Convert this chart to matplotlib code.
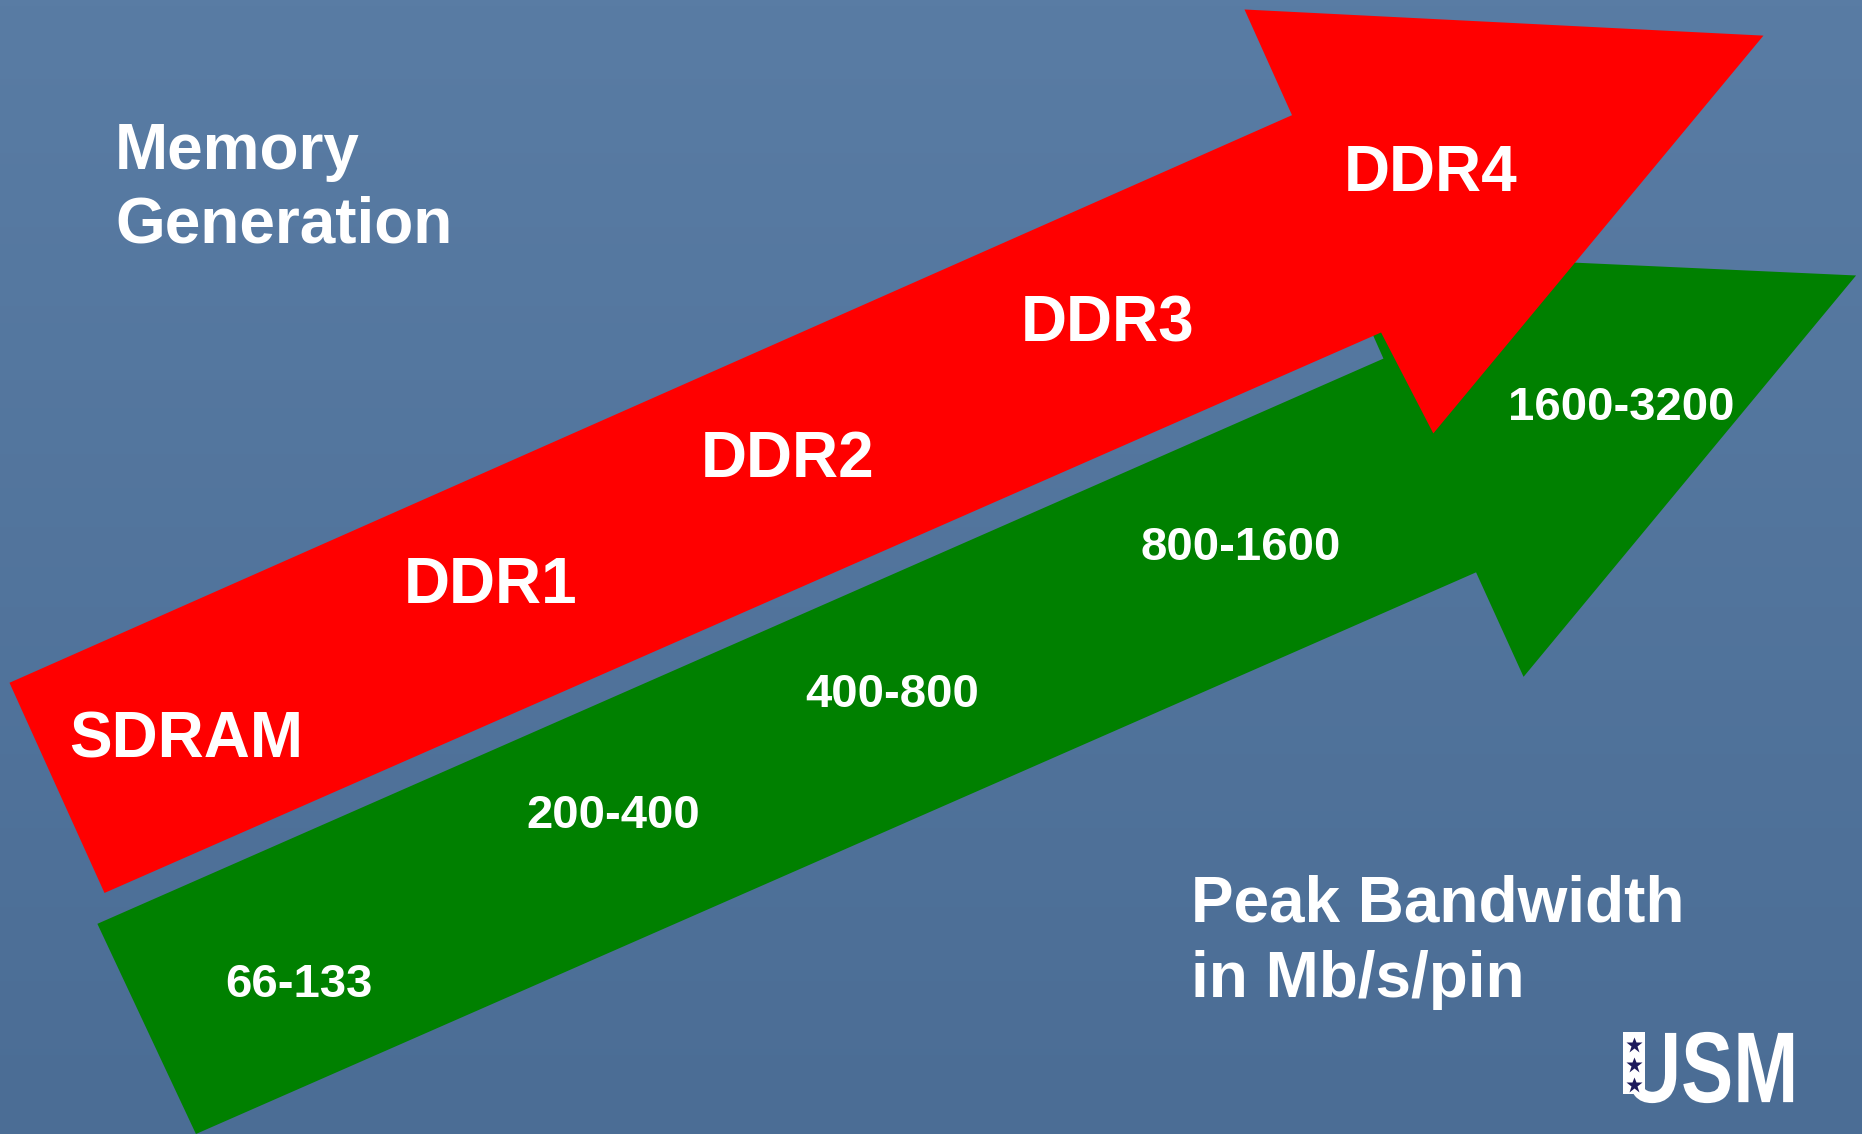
#!/usr/bin/env python3
import numpy as np
import matplotlib
matplotlib.use('Agg')
import matplotlib.pyplot as plt
from matplotlib.patches import Polygon, PathPatch, Rectangle
from matplotlib.textpath import TextPath
from matplotlib.font_manager import FontProperties
from matplotlib.transforms import Affine2D

# slide content
generations = ['SDRAM', 'DDR1', 'DDR2', 'DDR3', 'DDR4']
bandwidths = ['66-133', '200-400', '400-800', '800-1600', '1600-3200']
title_left = ['Memory', 'Generation']
title_right = ['Peak Bandwidth', 'in Mb/s/pin']

# layout (slide coords, 1568 x 955, y down)
W, H = 1568, 955
red_arrow = [(8, 575), (1088, 97), (1048, 8), (1485, 30), (1207, 365), (1163, 280), (88, 752)]
green_arrow = [(82, 778), (1165, 302), (1125, 212), (1563, 232), (1283, 570), (1243, 482), (165, 955)]
gen_pos = [(157, 638), (413, 508), (663, 402), (933, 288), (1205, 161)]
bw_pos = [(252, 840), (516, 697), (751, 595), (1045, 472), (1365, 354)]

plt.rcParams['font.family'] = ['Liberation Sans', 'DejaVu Sans']

fig = plt.figure(figsize=(18.62, 11.34), dpi=100)
ax = fig.add_axes([0, 0, 1, 1])
ax.set_xlim(0, W)
ax.set_ylim(H, 0)
ax.axis('off')

# background: blue vertical gradient
top = np.array([0x59, 0x7c, 0xa4]) / 255.0
bot = np.array([0x4b, 0x6d, 0x95]) / 255.0
t = np.linspace(0, 1, 200)[:, None]
grad = top[None, :] * (1 - t) + bot[None, :] * t
ax.imshow(grad[:, None, :], extent=[0, W, H, 0], aspect='auto', zorder=0)

ax.add_patch(Polygon(green_arrow, closed=True, facecolor='#008000', edgecolor='none', zorder=1))
ax.add_patch(Polygon(red_arrow, closed=True, facecolor='#ff0000', edgecolor='none', zorder=2))

for lab, (x, y) in zip(generations, gen_pos):
    ax.text(x, y, lab, color='white', fontsize=46, fontweight='bold',
            ha='center', va='baseline', zorder=3)
for lab, (x, y) in zip(bandwidths, bw_pos):
    ax.text(x, y, lab, color='white', fontsize=34, fontweight='bold',
            ha='center', va='baseline', zorder=3)

for lab, y in zip(title_left, [142, 204]):
    ax.text(97, y, lab, color='white', fontsize=46, fontweight='bold',
            ha='left', va='baseline', zorder=3)
for lab, y in zip(title_right, [776, 840]):
    ax.text(1003, y, lab, color='white', fontsize=46, fontweight='bold',
            ha='left', va='baseline', zorder=3)

# USM logo squeezed into its box, with a starred stem on the U
tp = TextPath((0, 0), 'USM', size=1, prop=FontProperties(family='Liberation Sans', weight='bold'))
bb = tp.get_extents()
x0, x1, y0, y1 = 1372, 1510, 869, 929
tr = Affine2D().translate(-bb.x0, -bb.y0).scale((x1 - x0) / bb.width, -(y1 - y0) / bb.height).translate(x0, y1)
ax.add_patch(PathPatch(tr.transform_path(tp), facecolor='white', edgecolor='none', zorder=3))
ax.add_patch(Rectangle((1367, 869), 18, 52, facecolor='white', edgecolor='none', zorder=3))
ax.plot([1376, 1376, 1376], [880, 897, 914], ls='none', marker='*', ms=12,
        color='#1c1a5c', mec='none', zorder=4)

fig.savefig('out.png', dpi=100)
